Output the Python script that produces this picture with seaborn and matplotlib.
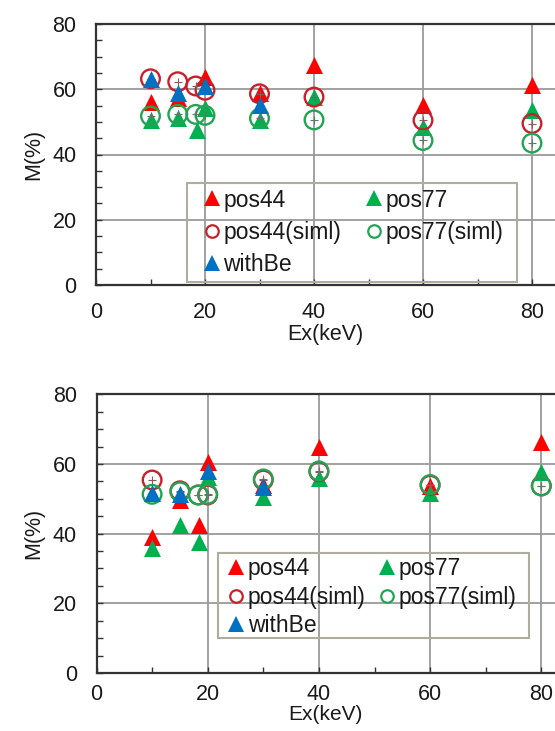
import matplotlib
matplotlib.use("Agg")
import matplotlib.pyplot as plt
from matplotlib.ticker import MultipleLocator
from matplotlib.lines import Line2D
from matplotlib.patches import Rectangle
import seaborn as sns

# ---------------- data ----------------
# Top panel
top_pos44_x = [10, 15, 20, 30, 40, 60, 80]
top_pos44_y = [56.1, 57.2, 63.8, 58.8, 67.4, 55.1, 61.3]
top_pos77_x = [10, 15, 18.5, 20, 30, 40, 60, 80]
top_pos77_y = [50.5, 51.3, 47.5, 54.1, 50.6, 57.7, 48.5, 53.6]
top_pos44s_x = [10, 15, 18.3, 20, 30, 40, 60, 80]
top_pos44s_y = [63.2, 62.3, 61.0, 59.7, 58.6, 57.6, 50.5, 49.5]
top_pos77s_x = [10, 15, 18.3, 20, 30, 40, 60, 80]
top_pos77s_y = [51.8, 52.3, 52.3, 52.0, 51.1, 50.6, 44.3, 43.5]
top_withbe_x = [10, 15, 20, 30]
top_withbe_y = [63.2, 59.0, 61.0, 55.1]

# Bottom panel
bot_pos44_x = [10, 15, 18.5, 20, 30, 40, 60, 80]
bot_pos44_y = [39.1, 49.6, 42.5, 60.6, 54.0, 64.8, 53.8, 66.4]
bot_pos77_x = [10, 15, 18.5, 20, 30, 40, 60, 80]
bot_pos77_y = [36.0, 42.5, 37.6, 56.3, 50.6, 55.9, 51.6, 57.8]
bot_pos44s_x = [10, 15, 18.3, 20, 30, 40, 60, 80]
bot_pos44s_y = [55.4, 52.3, 51.1, 51.1, 55.4, 57.8, 53.9, 53.7]
bot_pos77s_x = [10, 15, 18.3, 20, 30, 40, 60, 80]
bot_pos77s_y = [51.3, 52.0, 51.1, 51.3, 55.7, 58.0, 54.1, 53.7]
bot_withbe_x = [10, 15, 20, 30]
bot_withbe_y = [51.7, 51.5, 57.9, 53.5]

labels = ["pos44", "pos77", "pos44(siml)", "pos77(siml)", "withBe"]
x_ticks = [0, 20, 40, 60, 80]
y_ticks = [0, 20, 40, 60, 80]

# ---------------- style ----------------
RED = "#FF0000"
GREEN = "#00B050"
BLUE = "#0070C0"
RED_O = "#C8202A"
GREEN_O = "#23A455"
TXT = "#1a1a1a"
FS_TICK = 15.5
FS_LAB = 15.5
FS_LEG = 16.5

sns.set_theme(style="white")
plt.rcParams["font.family"] = ["Liberation Sans", "DejaVu Sans"]

fig = plt.figure(figsize=(5.55, 7.31), dpi=100)
W, H = 555.0, 731.0


def fx(px):
    return px / W


def fy(py):
    return 1 - py / H


def make_ax(left_px, top_px, bottom_px, px_per_unit):
    ax = fig.add_axes([fx(left_px), fy(bottom_px),
                       (W - left_px) / W, (bottom_px - top_px) / H])
    xmax = (W - left_px) / px_per_unit
    return ax, xmax


def draw(ax, xmax, data, xpad, xlabelpad, xlabel_fs):
    (p44x, p44y, p77x, p77y, s44x, s44y, s77x, s77y, wbx, wby) = data
    tri_s = 150
    circ_s = 180
    sns.scatterplot(x=p44x, y=p44y, ax=ax, marker="^", s=tri_s,
                    color=RED, edgecolor=RED, linewidth=0, zorder=3,
                    legend=False)
    sns.scatterplot(x=p77x, y=p77y, ax=ax, marker="^", s=tri_s,
                    color=GREEN, edgecolor=GREEN, linewidth=0, zorder=3,
                    legend=False)
    sns.scatterplot(x=s44x, y=s44y, ax=ax, marker="o", s=circ_s,
                    facecolors="none", edgecolor=RED_O, linewidth=1.7,
                    zorder=4, legend=False)
    sns.scatterplot(x=s44x, y=s44y, ax=ax, marker="+", s=30,
                    color="#8a5a5a", linewidth=0.8, zorder=4, legend=False)
    sns.scatterplot(x=s77x, y=s77y, ax=ax, marker="o", s=circ_s,
                    facecolors="none", edgecolor=GREEN_O, linewidth=1.7,
                    zorder=4, legend=False)
    sns.scatterplot(x=s77x, y=s77y, ax=ax, marker="+", s=30,
                    color="#5a7a66", linewidth=0.8, zorder=4, legend=False)
    sns.scatterplot(x=wbx, y=wby, ax=ax, marker="^", s=tri_s,
                    color=BLUE, edgecolor=BLUE, linewidth=0, zorder=5,
                    legend=False)

    ax.set_xlim(0, xmax)
    ax.set_ylim(0, 80)
    ax.set_xticks(x_ticks)
    ax.set_yticks(y_ticks)
    ax.xaxis.set_minor_locator(MultipleLocator(10))
    ax.yaxis.set_minor_locator(MultipleLocator(5))
    ax.grid(True, which="major", color="#9a9a9a", linewidth=1.3, zorder=0)
    ax.set_axisbelow(True)
    ax.tick_params(which="both", direction="in", color="#333333",
                   left=True, bottom=True, labelsize=FS_TICK, labelcolor=TXT)
    ax.tick_params(which="both", length=4, width=1.0)
    ax.tick_params(axis="y", which="major", pad=14)
    ax.tick_params(axis="x", which="major", pad=xpad)
    for side in ["left", "bottom", "top"]:
        ax.spines[side].set_color("#333333")
        ax.spines[side].set_linewidth(1.6)
    ax.spines["right"].set_visible(False)
    ax.set_xlabel("Ex(keV)", fontsize=xlabel_fs, color=TXT,
                  labelpad=xlabelpad)
    ax.set_ylabel("M(%)", fontsize=FS_LAB, color=TXT, labelpad=6)


def legend_handles():
    mk = dict(linestyle="none", markersize=11)
    h44 = Line2D([], [], marker="^", color=RED, markeredgewidth=0, **mk)
    h77 = Line2D([], [], marker="^", color=GREEN, markeredgewidth=0, **mk)
    h44s = Line2D([], [], marker="o", markerfacecolor="none",
                  markeredgecolor=RED_O, markeredgewidth=1.6,
                  linestyle="none", markersize=9)
    h77s = Line2D([], [], marker="o", markerfacecolor="none",
                  markeredgecolor=GREEN_O, markeredgewidth=1.6,
                  linestyle="none", markersize=9)
    hwb = Line2D([], [], marker="^", color=BLUE, markeredgewidth=0, **mk)
    # columns are filled top to bottom
    return ([h44, h44s, hwb, h77, h77s],
            [labels[0], labels[2], labels[4], labels[1], labels[3]])


def add_legend(ax, hx, hy, box, labelspacing, columnspacing):
    hs, ls = legend_handles()
    leg = ax.legend(hs, ls, ncol=2, loc="upper left",
                    bbox_to_anchor=(fx(hx), fy(hy)),
                    bbox_transform=fig.transFigure,
                    borderaxespad=0, borderpad=0, fontsize=FS_LEG,
                    frameon=False, handlelength=0.6, handletextpad=0.2,
                    columnspacing=columnspacing, labelspacing=labelspacing,
                    labelcolor=TXT)
    x0, y0, x1, y1 = box
    rect = Rectangle((fx(x0), fy(y1)), (x1 - x0) / W, (y1 - y0) / H,
                     transform=fig.transFigure, fill=False,
                     edgecolor="#b0ad9f", linewidth=1.5, zorder=6)
    fig.add_artist(rect)
    return leg


# top panel
ax1, xmax1 = make_ax(96, 24, 285, 5.45)
draw(ax1, xmax1, (top_pos44_x, top_pos44_y, top_pos77_x, top_pos77_y,
                  top_pos44s_x, top_pos44s_y, top_pos77s_x, top_pos77s_y,
                  top_withbe_x, top_withbe_y), 12, 1, FS_LAB)
add_legend(ax1, 205, 188.5, (187, 183, 517, 282), 0.41, 1.15)

# bottom panel
ax2, xmax2 = make_ax(96.5, 394.3, 673, 5.56)
draw(ax2, xmax2, (bot_pos44_x, bot_pos44_y, bot_pos77_x, bot_pos77_y,
                  bot_pos44s_x, bot_pos44s_y, bot_pos77s_x, bot_pos77s_y,
                  bot_withbe_x, bot_withbe_y), 8, 0, 15)
add_legend(ax2, 229.5, 557, (218, 553, 529, 638), 0.25, 0.65)

fig.savefig("out.png", dpi=100)
